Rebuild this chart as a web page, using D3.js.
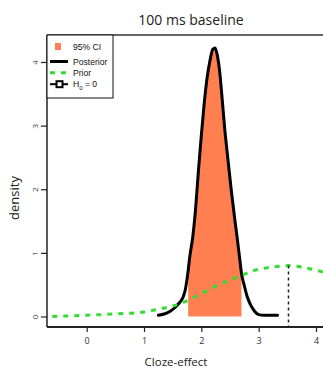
<!DOCTYPE html>
<html>
<head>
<meta charset="utf-8">
<script src="https://cdn.jsdelivr.net/npm/d3@7"></script>
<style>
  html, body { margin: 0; padding: 0; background: #fff; }
  svg { display: block; }
</style>
</head>
<body>
<svg id="chart" width="323" height="370"></svg>
<script>
// ---- data ----
const xTicks = [0, 1, 2, 3, 4];
const yTicks = [0, 1, 2, 3, 4];
const posteriorX = [1.25, 1.35, 1.45, 1.55, 1.62, 1.68, 1.72, 1.76, 1.80, 1.85, 1.90, 1.95, 2.00, 2.05, 2.10, 2.15, 2.20, 2.24, 2.28, 2.32, 2.36, 2.41, 2.46, 2.52, 2.58, 2.63, 2.67, 2.70, 2.75, 2.80, 2.85, 2.90, 2.95, 3.00, 3.10, 3.20, 3.33];
const posteriorY = [0.02, 0.04, 0.08, 0.15, 0.22, 0.30, 0.42, 0.65, 0.95, 1.25, 1.70, 2.30, 2.85, 3.35, 3.75, 4.02, 4.20, 4.22, 4.10, 3.85, 3.45, 2.93, 2.50, 2.00, 1.55, 1.20, 0.90, 0.68, 0.48, 0.31, 0.20, 0.12, 0.06, 0.03, 0.02, 0.02, 0.02];
const priorX = [-0.6, -0.3, 0.0, 0.5, 1.0, 1.28, 1.5, 1.66, 2.0, 2.33, 2.68, 2.91, 3.26, 3.52, 3.78, 4.04, 4.2];
const priorY = [0.0, 0.01, 0.02, 0.04, 0.07, 0.12, 0.165, 0.21, 0.36, 0.51, 0.64, 0.72, 0.78, 0.80, 0.77, 0.72, 0.68];
const ciBounds = [1.77, 2.70];
const h0X = 3.52;
const h0Density = 0.80;
const legendLabels = ["95% CI", "Posterior", "Prior", "H0 = 0"];
const title = "100 ms baseline";
const xLabel = "Cloze-effect";
const yLabel = "density";

// ---- layout ----
const svg = d3.select("#chart");
const frame = { left: 47, right: 330, top: 35, bottom: 327 };
const x = d3.scaleLinear().domain([0, 4]).range([86.7, 316]);
const y = d3.scaleLinear().domain([0, 4]).range([316.5, 62]);
const font = "'Open Sans', 'Liberation Sans', sans-serif";
const orange = "#ff7f50";
const green = "#33dd33";

const post = posteriorX.map((v, i) => [v, posteriorY[i]]);
const prior = priorX.map((v, i) => [v, priorY[i]]);

svg.append("defs").append("clipPath").attr("id", "ci")
  .append("rect")
  .attr("x", x(ciBounds[0])).attr("width", x(ciBounds[1]) - x(ciBounds[0]))
  .attr("y", 0).attr("height", 370);
svg.append("defs").append("clipPath").attr("id", "plot")
  .append("rect")
  .attr("x", frame.left).attr("width", 323 - frame.left)
  .attr("y", frame.top).attr("height", frame.bottom - frame.top);

// CI area
svg.append("path")
  .datum(post)
  .attr("clip-path", "url(#ci)")
  .attr("fill", orange)
  .attr("d", d3.area().x(d => x(d[0])).y0(y(0)).y1(d => y(d[1])).curve(d3.curveMonotoneX));

// posterior
svg.append("path")
  .datum(post)
  .attr("fill", "none").attr("stroke", "#000").attr("stroke-width", 3)
  .attr("stroke-linejoin", "round").attr("stroke-linecap", "round")
  .attr("d", d3.line().x(d => x(d[0])).y(d => y(d[1])).curve(d3.curveMonotoneX));

// prior
svg.append("g").attr("clip-path", "url(#plot)").append("path")
  .datum(prior)
  .attr("fill", "none").attr("stroke", green).attr("stroke-width", 3)
  .attr("stroke-dasharray", "5,6")
  .attr("d", d3.line().x(d => x(d[0])).y(d => y(d[1])).curve(d3.curveMonotoneX));

// H0 vertical dashed line
svg.append("line")
  .attr("x1", x(h0X)).attr("x2", x(h0X))
  .attr("y1", y(h0Density)).attr("y2", frame.bottom)
  .attr("stroke", "#222").attr("stroke-width", 1.5).attr("stroke-dasharray", "3,3");

// frame
svg.append("line").attr("x1", frame.left).attr("x2", 323).attr("y1", frame.top).attr("y2", frame.top)
  .attr("stroke", "#666").attr("stroke-width", 2);
svg.append("line").attr("x1", frame.left).attr("x2", frame.left).attr("y1", frame.top).attr("y2", frame.bottom)
  .attr("stroke", "#222").attr("stroke-width", 1.5);
svg.append("line").attr("x1", frame.left).attr("x2", 323).attr("y1", frame.bottom).attr("y2", frame.bottom)
  .attr("stroke", "#222").attr("stroke-width", 2);

// x axis
const gx = svg.append("g").attr("transform", `translate(0,${frame.bottom})`)
  .call(d3.axisBottom(x).tickValues(xTicks).tickSize(5).tickFormat(d3.format("d")));
gx.select(".domain").remove();
gx.selectAll("line").attr("stroke", "#222").attr("stroke-width", 1.2);
gx.selectAll("text").attr("font-family", font).attr("font-size", 9).attr("fill", "#333").attr("dy", "0.95em");

// y axis
const gy = svg.append("g").attr("transform", `translate(${frame.left},0)`)
  .call(d3.axisLeft(y).tickValues(yTicks).tickSize(6).tickFormat(d3.format("d")));
gy.select(".domain").remove();
gy.selectAll("line").attr("stroke", "#222").attr("stroke-width", 1.2);
gy.selectAll("text")
  .attr("font-family", font).attr("font-size", 8).attr("fill", "#333")
  .attr("x", null).attr("dy", null)
  .attr("text-anchor", "middle")
  .attr("transform", "translate(-12,0) rotate(-90)")
  .attr("dy", "0.35em");

// titles
svg.append("text").attr("x", 191).attr("y", 25).attr("text-anchor", "middle")
  .attr("font-family", font).attr("font-size", 14).attr("fill", "#222").text(title);
svg.append("text").attr("x", 176).attr("y", 366).attr("text-anchor", "middle")
  .attr("font-family", font).attr("font-size", 11.5).attr("fill", "#222").text(xLabel);
svg.append("text").attr("transform", "translate(19,198) rotate(-90)").attr("text-anchor", "middle")
  .attr("font-family", font).attr("font-size", 13).attr("fill", "#222").text(yLabel);

// legend
const lg = svg.append("g");
lg.append("rect").attr("x", frame.left).attr("y", frame.top).attr("width", 66).attr("height", 63)
  .attr("fill", "#fff").attr("stroke", "#111").attr("stroke-width", 1);
const rowY = [46.5, 61.5, 72.8, 84.2];
const lf = "'Liberation Sans', Arial, sans-serif";
lg.append("rect").attr("x", 55).attr("y", rowY[0] - 3.5).attr("width", 6).attr("height", 7).attr("fill", orange);
lg.append("line").attr("x1", 50).attr("x2", 68).attr("y1", rowY[1]).attr("y2", rowY[1])
  .attr("stroke", "#000").attr("stroke-width", 3);
lg.append("line").attr("x1", 50).attr("x2", 68).attr("y1", rowY[2]).attr("y2", rowY[2])
  .attr("stroke", green).attr("stroke-width", 3).attr("stroke-dasharray", "5,6");
lg.append("line").attr("x1", 50).attr("x2", 68).attr("y1", rowY[3]).attr("y2", rowY[3])
  .attr("stroke", "#000").attr("stroke-width", 2);
lg.append("rect").attr("x", 56.5).attr("y", rowY[3] - 3).attr("width", 6).attr("height", 6)
  .attr("fill", "#fff").attr("stroke", "#000").attr("stroke-width", 2);
legendLabels.forEach((t, i) => {
  const tx = lg.append("text").attr("x", 73).attr("y", rowY[i]).attr("dy", "0.35em")
    .attr("font-family", lf).attr("font-size", 8.6).attr("fill", "#111");
  if (t.startsWith("H0")) {
    tx.append("tspan").text("H");
    tx.append("tspan").attr("font-size", 6).attr("dy", "0.45em").text("0");
    tx.append("tspan").attr("dy", "-0.3em").text(" = 0");
  } else {
    tx.text(t);
  }
});
</script>
</body>
</html>
